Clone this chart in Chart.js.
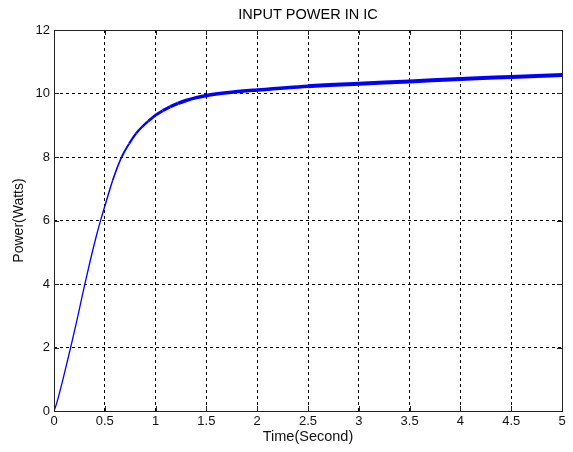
<!DOCTYPE html>
<html>
<head>
<meta charset="utf-8">
<script src="https://cdn.jsdelivr.net/npm/chart.js@4/dist/chart.umd.min.js"></script>
<style>
	html, body { margin: 0; padding: 0; background: #fff; }
	#powerChart { display: block; }
</style>
</head>
<body>
<canvas id="powerChart" width="573" height="452"></canvas>
<script>
// input power of the IC over time
const timeSec = [0, 0.026, 0.082, 0.164, 0.23, 0.295, 0.36, 0.42, 0.463, 0.5, 0.578, 0.666, 0.74, 0.807, 0.87, 0.928, 1.0, 1.07, 1.142, 1.22, 1.3, 1.4, 1.5, 1.75, 2.0, 2.5, 3.0, 3.5, 4.0, 4.5, 5.0];
const powerWatts = [0, 0.24, 0.92, 2.0, 2.92, 3.88, 4.78, 5.55, 6.05, 6.45, 7.27, 8.0, 8.42, 8.74, 8.96, 9.13, 9.32, 9.46, 9.58, 9.69, 9.78, 9.87, 9.94, 10.04, 10.11, 10.23, 10.31, 10.38, 10.46, 10.52, 10.58];

const xTicks = { min: 0, max: 5, step: 0.5 };
const yTicks = { min: 0, max: 12, step: 2 };

let points = [];
timeSec.forEach((t, i) => {
	points.push({ x: t, y: powerWatts[i] });
});

// line gets heavier where the trace is denser
function traceWidth(ctx) {
	let x = ctx.p0.parsed.x;
	if (x < 0.45) return 1.3;
	if (x < 1.2) return 1.3 + (x - 0.45) / 0.75 * 2.2;
	if (x < 2.5) return 3.5;
	return 4;
}

// box around the plot with small inward tick marks
const boxPlugin = {
	id: 'box',
	afterDraw(chart) {
		let ctx = chart.ctx;
		let a = chart.chartArea;
		let xs = chart.scales.x;
		let ys = chart.scales.y;
		ctx.save();
		ctx.strokeStyle = '#222';
		ctx.lineWidth = 1;
		ctx.setLineDash([]);
		ctx.beginPath();
		xs.ticks.forEach(t => {
			let px = Math.round(xs.getPixelForValue(t.value)) + 0.5;
			ctx.moveTo(px, a.bottom); ctx.lineTo(px, a.bottom - 5);
			ctx.moveTo(px, a.top); ctx.lineTo(px, a.top + 5);
		});
		ys.ticks.forEach(t => {
			let py = Math.round(ys.getPixelForValue(t.value)) + 0.5;
			ctx.moveTo(a.left, py); ctx.lineTo(a.left + 5, py);
			ctx.moveTo(a.right, py); ctx.lineTo(a.right - 5, py);
		});
		ctx.stroke();
		ctx.strokeRect(Math.round(a.left) + 0.5, Math.round(a.top) + 0.5, Math.round(a.right - a.left), Math.round(a.bottom - a.top));
		ctx.restore();
	}
};

let target = document.getElementById('powerChart');
new Chart(target, {
	type: 'line',
	data: {
		datasets: [{
			label: 'Power',
			data: points,
			borderColor: '#0000ff',
			borderWidth: 2,
			pointRadius: 0,
			fill: false,
			cubicInterpolationMode: 'monotone',
			segment: { borderWidth: traceWidth }
		}]
	},
	options: {
		responsive: false,
		animation: false,
		layout: { padding: { left: 0, right: 11, top: 0, bottom: 0 } },
		plugins: {
			legend: { display: false },
			tooltip: { enabled: false },
			title: {
				display: true,
				fullSize: false,
				text: 'INPUT POWER IN IC',
				color: '#000',
				font: { family: 'Liberation Sans, Arial, sans-serif', size: 14.5, weight: 'normal' },
				padding: { top: 6, bottom: 6.6 }
			}
		},
		scales: {
			x: {
				type: 'linear',
				min: xTicks.min,
				max: xTicks.max,
				ticks: {
					stepSize: xTicks.step,
					color: '#111',
					padding: 3,
					font: { family: 'Liberation Sans, Arial, sans-serif', size: 13 },
					maxRotation: 0,
					callback: value => String(value)
				},
				grid: { color: '#000', lineWidth: 1, drawTicks: false },
				border: { display: false, dash: [3, 3] },
				title: {
					display: true,
					text: 'Time(Second)',
					color: '#111',
					font: { family: 'Liberation Sans, Arial, sans-serif', size: 14.5 },
					padding: { top: 0, bottom: 6 }
				},
				afterFit: axis => { axis.height = 41; }
			},
			y: {
				min: yTicks.min,
				max: yTicks.max,
				ticks: {
					stepSize: yTicks.step,
					color: '#111',
					padding: 4,
					font: { family: 'Liberation Sans, Arial, sans-serif', size: 13 },
					callback: value => String(value)
				},
				grid: { color: '#000', lineWidth: 1, drawTicks: false },
				border: { display: false, dash: [3, 3] },
				title: {
					display: true,
					text: 'Power(Watts)',
					color: '#111',
					font: { family: 'Liberation Sans, Arial, sans-serif', size: 14 },
					padding: { top: 11, bottom: 0 }
				},
				afterFit: axis => { axis.width = 54; }
			}
		}
	},
	plugins: [boxPlugin]
});
</script>
</body>
</html>
